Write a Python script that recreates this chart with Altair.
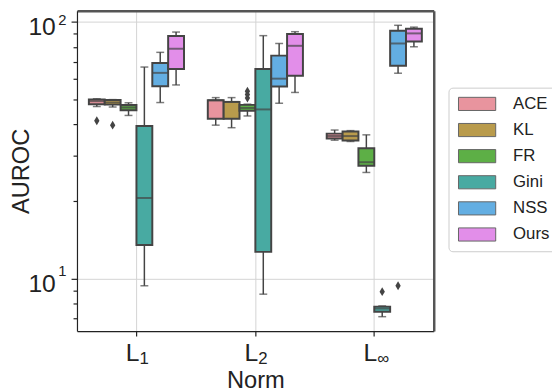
import altair as alt
import pandas as pd

FONT = "Liberation Sans"

norms = ["L1", "L2", "Linf"]
x_main = ["L", "L", "L"]
x_sub = ["1", "2", "\u221e"]
methods = ["ACE", "KL", "FR", "Gini", "NSS", "Ours"]
colors = ["#e8949e", "#b99b4c", "#5daf46", "#48aaa2", "#63aee2", "#e28ee9"]

# box statistics, one list per norm, in method order
whisker_low = {
    "L1":   [46.8, 46.6, 43.2, 9.37, 48.5, 56.8],
    "L2":   [39.6, 38.7, 43.0, 8.69, 48.2, 53.1],
    "Linf": [34.6, 34.2, 25.9, 7.10, 63.1, 80.0],
}
q1 = {
    "L1":   [47.8, 47.6, 45.3, 13.5, 56.1, 65.6],
    "L2":   [41.9, 41.9, 45.1, 12.7, 56.0, 61.7],
    "Linf": [35.1, 34.5, 27.5, 7.42, 67.5, 83.9],
}
median = {
    "L1":   [49.1, 48.5, 46.4, 20.6, 63.3, 78.6],
    "L2":   [49.5, 48.8, 46.2, 45.6, 60.1, 80.7],
    "Linf": [35.9, 35.9, 28.4, 7.64, 82.4, 90.2],
}
q3 = {
    "L1":   [49.8, 49.6, 47.4, 39.3, 69.1, 88.1],
    "L2":   [49.5, 48.8, 47.5, 65.6, 73.9, 89.7],
    "Linf": [36.7, 37.4, 32.2, 7.77, 92.4, 94.0],
}
whisker_high = {
    "L1":   [50.2, 49.8, 48.4, 66.7, 76.1, 91.3],
    "L2":   [50.7, 50.7, 47.8, 88.4, 82.4, 91.6],
    "Linf": [37.9, 37.7, 36.3, 7.82, 97.0, 95.4],
}
outlier_norm = ["L1", "L1", "L2", "L2", "L2", "Linf", "Linf"]
outlier_method = ["ACE", "KL", "FR", "FR", "FR", "Gini", "NSS"]
outlier_value = [41.2, 39.6, 50.5, 52.1, 53.7, 8.89, 9.37]

major_ticks = [10, 100]
major_sup = ["1", "2"]
all_ticks = [7, 8, 9, 10, 20, 30, 40, 50, 60, 70, 80, 90, 100]

rows = []
for n in norms:
    for i, m in enumerate(methods):
        rows.append(dict(norm=n, method=m, lo=whisker_low[n][i], q1=q1[n][i],
                         med=median[n][i], q3=q3[n][i], hi=whisker_high[n][i]))
box_df = pd.DataFrame(rows)
out_df = pd.DataFrame(dict(norm=outlier_norm, method=outlier_method, value=outlier_value))
xlab_df = pd.DataFrame(dict(norm=norms, main=x_main, sub=x_sub))
sup_df = pd.DataFrame(dict(val=major_ticks, sup=major_sup))

xscale = alt.Scale(domain=norms, paddingInner=0, paddingOuter=0)
xoscale = alt.Scale(domain=methods, paddingInner=0, paddingOuter=0.75)
yscale = alt.Scale(type="log", domain=[6.24, 110.5], nice=False)
EDGE = "#444444"
major_test = "datum.value == 10 || datum.value == 100"

xo = alt.XOffset("method:N", scale=xoscale)

whiskers = alt.Chart(box_df).mark_rule(color=EDGE, strokeWidth=1.5).encode(
    x=alt.X("norm:N", scale=xscale, axis=alt.Axis(
        labels=False, ticks=True, tickSize=5, tickColor="#222222", tickWidth=1.2,
        domainColor="#222222", domainWidth=1.2, grid=True, gridColor="#d3d3d3",
        gridWidth=1, title="Norm", titleFont=FONT, titleFontSize=24,
        titleFontWeight="normal", titleColor="#222222", titleBaseline="alphabetic",
        titleY=57, titleX=181)),
    xOffset=xo,
    y=alt.Y("lo:Q", scale=yscale, axis=alt.Axis(
        values=all_ticks,
        labelExpr=f"{major_test} ? '10' : ''",
        labelFont=FONT, labelFontSize=25, labelColor="#222222",
        labelPadding=16, labelOffset=5,
        tickSize={"condition": {"test": major_test, "value": 6}, "value": 4},
        tickColor="#222222", tickWidth=1.2,
        grid=True, gridColor="#d3d3d3", gridWidth=1,
        gridOpacity={"condition": {"test": major_test, "value": 1}, "value": 0},
        domainColor="#222222", domainWidth=1.2,
        title="AUROC", titleFont=FONT, titleFontSize=24, titleFontWeight="normal",
        titleColor="#222222", titleBaseline="alphabetic", titleAngle=-90,
        titleX=-49, titleY=162.5, titleAlign="center")),
    y2="hi:Q",
)

caps_lo = alt.Chart(box_df).mark_tick(color=EDGE, thickness=1.5, size=8).encode(
    x=alt.X("norm:N", scale=xscale, axis=None), xOffset=xo,
    y=alt.Y("lo:Q", scale=yscale, axis=None))
caps_hi = alt.Chart(box_df).mark_tick(color=EDGE, thickness=1.5, size=8).encode(
    x=alt.X("norm:N", scale=xscale, axis=None), xOffset=xo,
    y=alt.Y("hi:Q", scale=yscale, axis=None))

boxes = alt.Chart(box_df).mark_bar(stroke=EDGE, strokeWidth=2, opacity=1).encode(
    x=alt.X("norm:N", scale=xscale, axis=None), xOffset=xo,
    y=alt.Y("q1:Q", scale=yscale, axis=None), y2="q3:Q",
    fill=alt.Fill("method:N", scale=alt.Scale(domain=methods, range=colors),
                  legend=alt.Legend(
                      title=None, orient="none", legendX=377, legendY=78,
                      labelFont=FONT, labelFontSize=17, labelColor="#222222",
                      symbolType="M-2.83,-1L2.83,-1L2.83,1L-2.83,1Z", symbolSize=178,
                      symbolStrokeColor="#666666", symbolStrokeWidth=1,
                      symbolOpacity=1, symbolOffset=12.5, labelOffset=28,
                      rowPadding=7.5, padding=8, strokeColor="#cccccc",
                      fillColor="white", cornerRadius=4)),
)

medians = alt.Chart(box_df).mark_tick(color=EDGE, thickness=2, size=16).encode(
    x=alt.X("norm:N", scale=xscale, axis=None), xOffset=xo,
    y=alt.Y("med:Q", scale=yscale, axis=None))

outliers = alt.Chart(out_df).mark_point(
    filled=True, color=EDGE, opacity=1, size=81,
    shape="M0,-1L0.6,0L0,1L-0.6,0Z").encode(
    x=alt.X("norm:N", scale=xscale, axis=alt.Axis(
        orient="top", labels=False, ticks=False, grid=False, title=None,
        domainColor="#555555", domainWidth=2.5)),
    xOffset=xo,
    y=alt.Y("value:Q", scale=yscale, axis=alt.Axis(
        orient="right", labels=False, ticks=False, grid=False, title=None,
        domainColor="#555555", domainWidth=2.5)),
)

xl_main = alt.Chart(xlab_df).mark_text(
    align="right", baseline="alphabetic", font=FONT, fontSize=25,
    color="#222222", dx=3).encode(
    x=alt.X("norm:N", scale=xscale, axis=None), y=alt.value(355), text="main:N")
xl_sub = alt.Chart(xlab_df).mark_text(
    align="left", baseline="alphabetic", font=FONT, fontSize=17,
    color="#222222", dx=3).encode(
    x=alt.X("norm:N", scale=xscale, axis=None), y=alt.value(358.5), text="sub:N")

sup_low = alt.Chart(sup_df).transform_filter("datum.val < 50").mark_text(
    align="left", baseline="middle", font=FONT, fontSize=15,
    color="#222222", dy=-8).encode(
    y=alt.Y("val:Q", scale=yscale, axis=None), x=alt.value(-19), text="sup:N")
sup_high = alt.Chart(sup_df).transform_filter("datum.val > 50").mark_text(
    align="left", baseline="middle", font=FONT, fontSize=15,
    color="#222222", dy=-2).encode(
    y=alt.Y("val:Q", scale=yscale, axis=None), x=alt.value(-19), text="sup:N")

chart = alt.layer(
    whiskers, caps_lo, caps_hi, boxes, medians, outliers, xl_main, xl_sub,
    sup_low, sup_high
).resolve_axis(x="independent", y="independent").properties(
    width=362, height=325,
    autosize=alt.AutoSizeParams(type="none"),
    padding={"left": 70, "top": 0, "right": 120, "bottom": 59},
    background="white",
).configure_view(stroke=None)

chart.save("out.html", embed_options={"renderer": "svg", "actions": False})
